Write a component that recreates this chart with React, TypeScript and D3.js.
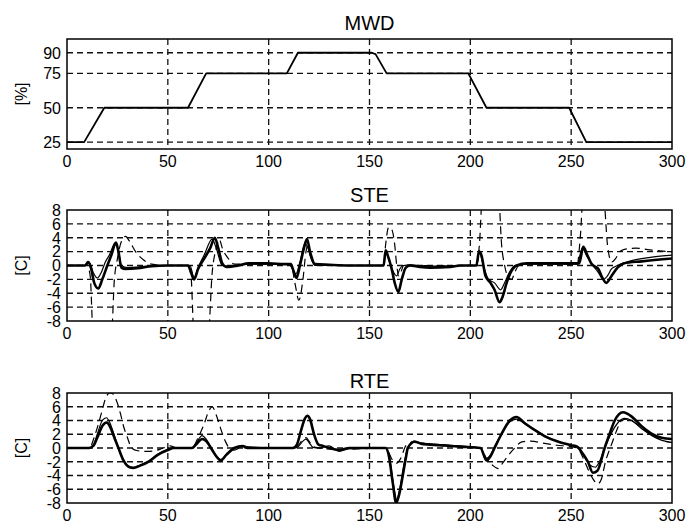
import React from 'react';
import * as d3 from 'd3';

// x axis shared by all three panels
const xTicks = [0, 50, 100, 150, 200, 250, 300];

// MWD [%]
const mwdTicks = [25, 50, 75, 90];
const mwd: [number, number][] = [
  [0, 25], [8.5, 25], [18.5, 50], [60, 50], [69, 75], [109, 75], [114.5, 90],
  [151, 90], [153, 89], [158.5, 75], [199, 75], [208, 50], [249, 50], [257.5, 25], [300, 25],
];

// STE / RTE [C]
const tempTicks = [8, 6, 4, 2, 0, -2, -4, -6, -8];

const steThick: [number, number][] = [
  [0, 0], [9, 0], [10.5, 0.5], [12, -0.5], [13.5, -2.5], [15.5, -3.3], [17.5, -2], [20, 0], [22, 1.5],
  [24.3, 3.3], [25.5, 2], [27, -0.3], [29, -0.5], [35, -0.4], [42, -0.1], [50, 0], [60, 0], [61.5, -1],
  [63, -2], [65, -0.5], [68, 1], [71, 2.5], [73.3, 4], [75, 2.5], [77, 0.3], [79, -0.2], [85, 0], [90, 0.3],
  [100, 0.3], [108, 0.2], [111, 0.2], [112, -0.5], [113.8, -1.8], [115.5, 0], [117.5, 2.5], [119, 3.8],
  [120.5, 2], [123, 0.2], [130, 0.1], [140, 0], [157, 0], [158, 2.2], [159, 1.5], [161, -0.5], [162.5, -2.5],
  [164.3, -3.8], [166, -2], [168, -0.3], [170, 0], [175, -0.2], [180, -0.3], [190, -0.2], [195, 0], [203, 0],
  [204.3, 2], [205.5, 1.5], [207.5, -1.5], [210, -2.5], [212, -3.5], [214.5, -5.3], [216, -4.5], [218, -2.5],
  [220, -1], [223, 0], [228, 0.3], [240, 0.3], [254, 0.3], [256, 2.7], [258, 1.5], [260, 0.3], [262, -0.2],
  [263.5, -0.5], [265, -1.5], [267.5, -2.5], [270, -1.5], [273, -0.3], [276, 0.3], [285, 0.6], [300, 1.0],
];
const steThin: [number, number][] = [
  [0, 0], [9, 0], [11, 0.5], [13, -1], [15, -1.8], [17, -1], [19, 0.5], [21, 1.5], [24, 3.3], [25.5, 2],
  [27, 0], [30, -0.3], [40, -0.1], [50, 0], [61, 0], [63, -1.8], [65, -0.3], [68, 1.5], [72, 3.8], [74, 2.5],
  [77, 0], [80, -0.1], [90, 0.2], [110, 0.2], [113.5, -1.2], [115.5, 0.5], [118, 3.2], [119.5, 2.5], [121, 1],
  [123, 0], [140, 0], [157, 0], [158, 2], [160, 0.5], [162, -1], [163.5, -1.5], [165, -0.5], [167, 0],
  [170, 0.1], [180, -0.1], [200, 0], [203, 0], [204.3, 2.2], [206, 0.5], [209, -2], [212, -2.5], [215, -3.5],
  [217, -2.5], [219, -1.2], [222, 0], [228, 0.2], [253, 0.2], [255.5, 2.5], [257.5, 1.5], [260, 0.3],
  [263, -0.8], [266, -2], [268, -1.5], [270, -0.5], [273, 0], [280, 0.7], [290, 1.2], [300, 1.5],
];
const steDash: [number, number][] = [
  [0, 0], [10, 0], [11.5, -1.5], [13, -10], [22, -10], [23.5, -2], [25, 1], [27, 3.5], [29, 4.2], [31, 3.5],
  [34, 2], [38, 0.8], [42, 0.2], [50, 0], [60, 0], [61.5, -1.5], [63, -10], [70, -10], [72, -1], [74, 2.5],
  [75.5, 3.8], [77, 2.5], [80, 1], [83, 0.2], [90, 0.2], [111, 0.2], [113, -2.5], [115, -5], [117, -2],
  [118.5, 2], [119.5, 3], [121, 1], [124, 0], [157, 0], [158, 3], [159.5, 5.5], [161, 5.2], [162.5, 3],
  [163.5, 0], [164.5, -1.5], [165.5, -1], [167, 0], [170, 0], [203, 0], [204.5, 3], [206, 10], [214, 10],
  [215.5, 3], [217, 0], [218.5, -1.5], [220.5, -2], [222, -1], [224, 0], [228, 0.2], [253, 0.2], [254.5, 4],
  [256, 10], [266, 10], [268, 3], [270, 0.5], [272, 1], [274, 2], [276, 2.3], [282, 2.5], [288, 2.3],
  [294, 2.1], [300, 2],
];

const rteThick: [number, number][] = [
  [0, 0], [11, 0], [13, 0.3], [15, 1.5], [17.5, 3.2], [19.7, 3.7], [21.5, 3], [23.5, 1.5], [25.5, 0],
  [28, -1.8], [31, -2.8], [33, -2.9], [36, -2.6], [40.5, -2], [45, -1], [50, -0.3], [53, 0], [62, 0],
  [64, 0.5], [67, 1.3], [69, 1], [72, -0.3], [74, -1.2], [76.3, -1.8], [79, -1], [83, 0], [87, 0.3], [90, 0],
  [112, 0], [114, 0.5], [116, 2.5], [118, 4.3], [119.3, 4.7], [120.5, 4.2], [122.5, 2], [124.7, 0.5],
  [127, 0.3], [130, 0], [135, -0.3], [140, 0], [158, 0], [159.5, -1], [161.5, -5], [163.2, -8], [164.5, -7],
  [166.5, -4], [168, -1.5], [169, 0], [172.4, 0.9], [176, 0.6], [185, 0.4], [195, 0.2], [205, 0], [208, -1.8],
  [210, -1.2], [212, 0], [215.4, 2], [219.6, 4], [222.9, 4.5], [227, 3.6], [232, 2.6], [237, 1.7],
  [243.7, 0.9], [250, 0.4], [253, 0.2], [255, -0.5], [258.3, -2], [260.8, -3.6], [263, -3.3], [266.6, 0],
  [269, 2], [271.6, 4], [275.7, 5.2], [279.9, 4.6], [284.8, 3.2], [289.8, 2.1], [294.8, 1.5], [300, 1.3],
];
const rteThin: [number, number][] = [
  [0, 0], [11, 0], [13, 0.4], [15, 2], [17.5, 4], [19.5, 4.4], [21.5, 3.5], [23.5, 1.8], [25.5, 0],
  [28, -1.8], [31, -2.7], [33, -2.8], [36, -2.5], [41, -1.8], [45, -0.9], [50, -0.2], [53, 0], [62, 0],
  [64, 0.7], [67, 1.8], [69, 1.3], [72, -0.2], [74, -1.1], [76.3, -1.7], [79, -0.9], [83, 0], [88, 0.2],
  [100, 0], [113, 0], [115, 0.3], [117, 1], [118.5, 1.3], [120, 0.8], [122, 0.1], [125, 0], [130, 0.3],
  [135, -0.5], [140, -0.1], [158, 0], [160, -1.5], [162, -5.5], [163.5, -7.5], [165, -6], [167, -2.5],
  [169, 0], [172, 1], [176, 0.7], [190, 0.4], [205, 0], [208, -1.5], [210, -1], [212, 0.2], [215.5, 2],
  [219.5, 3.8], [223, 4.2], [228, 3.3], [233, 2.4], [238, 1.6], [244, 0.9], [250, 0.4], [253, 0.2],
  [256, -1], [259, -2.4], [262, -2.8], [264, -2], [267, 0.3], [270, 2.2], [273, 3.6], [276.5, 4.3],
  [280, 4], [285, 2.8], [290, 1.8], [295, 1.1], [300, 0.8],
];
const rteDash: [number, number][] = [
  [0, 0], [11, 0], [14, 2], [17, 5], [19.5, 7.5], [21.3, 8], [23, 7.8], [25, 6.5], [26.5, 5], [28, 3.2],
  [30, 1.5], [32, 0], [35, -0.4], [40, -0.5], [46, -0.2], [51, 0.3], [55, 0], [62, 0], [65, 1.5], [68, 3.5],
  [70.5, 5.5], [72, 6], [74, 4.8], [76, 3], [78.5, 1], [80.5, 0], [83, -0.3], [86, 0], [112, 0], [115, 0.5],
  [117, 1.3], [118.5, 1.5], [120, 1], [122, 0.2], [125, 0], [135, -0.2], [158, 0], [161.5, -1.8],
  [163.5, -2.2], [165.5, -1.5], [168, 0.3], [172, 0.9], [180, 0.5], [205, 0], [208, -1.5], [211, -2.5],
  [213.8, -3], [216, -2.2], [219, -1], [222, 0], [225.6, 0.9], [230, 1], [236, 0.7], [243, 0.4], [250, 0.2],
  [253, 0], [256, -1.5], [259, -3.5], [261.5, -4.8], [263.3, -5.2], [265, -4.5], [267, -2], [270, 0.5],
  [272.5, 2.5], [275, 4], [278, 4.2], [282, 3.6], [286, 2.7], [291, 1.8], [296, 1], [300, 0.8],
];

const FONT = '"Liberation Sans", Arial, sans-serif';
const LEFT = 67;
const RIGHT = 672;

type Series = { data: [number, number][]; width: number; dash?: string; curve?: d3.CurveFactory };

function Panel({ id, title, titleY, unit, top, bottom, domain, ticks, series }: {
  id: string; title: string; titleY: number; unit: string; top: number; bottom: number;
  domain: [number, number]; ticks: number[]; series: Series[];
}) {
  const x = d3.scaleLinear().domain([0, 300]).range([LEFT, RIGHT]);
  const y = d3.scaleLinear().domain(domain).range([bottom, top]);
  const gridY = ticks.filter(t => t > domain[0] && t < domain[1]);
  const gridX = xTicks.filter(t => t > 0 && t < 300);

  return (
    <g>
      <defs>
        <clipPath id={id}>
          <rect x={LEFT} y={top} width={RIGHT - LEFT} height={bottom - top} />
        </clipPath>
      </defs>
      {gridY.map(t => (
        <line key={'gy' + t} x1={LEFT} x2={RIGHT} y1={y(t)} y2={y(t)}
          stroke="#111" strokeWidth={1.4} strokeDasharray="6,4" />
      ))}
      {gridX.map(t => (
        <line key={'gx' + t} x1={x(t)} x2={x(t)} y1={top} y2={bottom}
          stroke="#111" strokeWidth={1.3} strokeDasharray="6,4" />
      ))}
      <g clipPath={`url(#${id})`}>
        {series.map((s, i) => {
          const line = d3.line<[number, number]>()
            .x(d => x(d[0]))
            .y(d => y(d[1]))
            .curve(s.curve || d3.curveMonotoneX);
          return (
            <path key={i} d={line(s.data) || ''} fill="none" stroke="#000"
              strokeWidth={s.width} strokeDasharray={s.dash} strokeLinejoin="round" />
          );
        })}
      </g>
      <rect x={LEFT} y={top} width={RIGHT - LEFT} height={bottom - top}
        fill="none" stroke="#000" strokeWidth={1.5} />
      {ticks.map(t => (
        <text key={'ty' + t} x={61} y={y(t)} dy="0.36em" textAnchor="end"
          fontSize={16} fontFamily={FONT}>{t}</text>
      ))}
      {xTicks.map(t => (
        <text key={'tx' + t} x={x(t)} y={bottom + 12} dy="0.36em" textAnchor="middle"
          fontSize={16} fontFamily={FONT}>{t}</text>
      ))}
      <text x={(LEFT + RIGHT) / 2} y={titleY} dy="0.36em" textAnchor="middle"
        fontSize={20} fontFamily={FONT}>{title}</text>
      <text transform={`translate(21,${(top + bottom) / 2}) rotate(-90)`} dy="0.36em"
        textAnchor="middle" fontSize={16} fontFamily={FONT}>{unit}</text>
    </g>
  );
}

export default function App() {
  return (
    <svg width={688} height={524} style={{ position: 'absolute', left: 0, top: 0, background: '#fff' }}>
      <Panel id="c-mwd" title="MWD" titleY={23} unit="[%]" top={39} bottom={149}
        domain={[20, 100]} ticks={mwdTicks}
        series={[{ data: mwd, width: 1.8, curve: d3.curveLinear }]} />
      <Panel id="c-ste" title="STE" titleY={195} unit="[C]" top={210} bottom={321}
        domain={[-8, 8]} ticks={tempTicks}
        series={[
          { data: steDash, width: 1.2, dash: '8,5' },
          { data: steThin, width: 1.2 },
          { data: steThick, width: 2.6 },
        ]} />
      <Panel id="c-rte" title="RTE" titleY={381} unit="[C]" top={393} bottom={503}
        domain={[-8, 8]} ticks={tempTicks}
        series={[
          { data: rteDash, width: 1.2, dash: '8,5' },
          { data: rteThin, width: 1.2 },
          { data: rteThick, width: 2.6 },
        ]} />
    </svg>
  );
}
